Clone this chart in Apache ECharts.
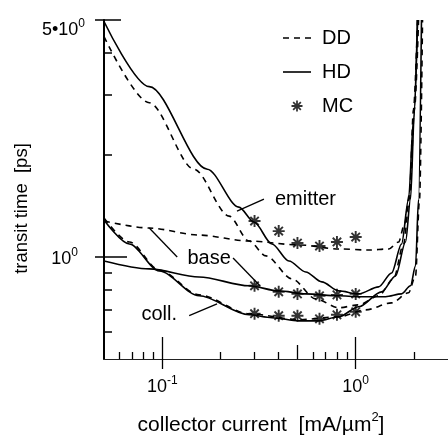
<!DOCTYPE html>
<html>
<head>
<meta charset="utf-8">
<script src="https://cdn.jsdelivr.net/npm/echarts@6/dist/echarts.min.js"></script>
<style>
  html, body { margin: 0; padding: 0; background: #fff; }
  #chart { width: 448px; height: 441px; }
</style>
</head>
<body>
<div id="chart"></div>
<script>
// Transit-time components versus collector current density.
// Each curve is a list of [current (mA/um^2), transit time (ps)] pairs.

const emitterHD = [
  [0.05, 4.95], [0.0857, 3.18], [0.171, 1.815], [0.249, 1.403], [0.298, 1.268],
  [0.369, 1.092], [0.452, 0.973], [0.552, 0.903], [0.668, 0.844], [0.817, 0.794],
  [1.036, 0.778], [1.314, 0.816], [1.533, 0.897], [1.726, 1.092], [1.876, 1.481],
  [1.99, 2.546], [2.087, 5.0]
];
const emitterDD = [
  [0.05, 4.47], [0.0857, 2.85], [0.146, 1.815], [0.2215, 1.32], [0.281, 1.114],
  [0.344, 1.007], [0.468, 0.862], [0.622, 0.752], [0.817, 0.708], [1.036, 0.722],
  [1.314, 0.768], [1.57, 0.862], [1.768, 1.092], [1.897, 1.481], [2.014, 2.725],
  [2.113, 5.0]
];
const baseHD = [
  [0.05, 0.973], [0.0857, 0.922], [0.155, 0.873], [0.281, 0.822], [0.401, 0.794],
  [0.552, 0.778], [0.817, 0.768], [1.036, 0.763], [1.428, 0.763], [1.726, 0.778],
  [1.92, 0.822], [2.038, 0.941], [2.113, 1.481], [2.188, 5.0]
];
const baseDD = [
  [0.05, 1.276], [0.0857, 1.217], [0.155, 1.16], [0.281, 1.114], [0.509, 1.085],
  [0.817, 1.056], [1.167, 1.048], [1.479, 1.056], [1.666, 1.107], [1.789, 1.25],
  [1.897, 1.532], [1.99, 2.725], [2.087, 5.0]
];
const collHD = [
  [0.05, 1.285], [0.0676, 1.092], [0.0965, 0.909], [0.155, 0.768], [0.281, 0.675],
  [0.369, 0.662], [0.509, 0.648], [0.645, 0.648], [0.817, 0.666], [1.036, 0.713],
  [1.361, 0.789], [1.608, 0.879], [1.81, 1.107], [1.92, 1.481], [2.014, 2.725],
  [2.087, 5.0]
];
const collDD = [
  [0.05, 1.302], [0.0676, 1.107], [0.0965, 0.915], [0.155, 0.773], [0.281, 0.68],
  [0.509, 0.653], [0.817, 0.666], [1.126, 0.698], [1.533, 0.732], [1.876, 0.784],
  [2.038, 0.879], [2.138, 1.481], [2.215, 5.0]
];

// Monte Carlo points
const mcCurrent = [0.3, 0.4, 0.5, 0.65, 0.8, 1.0];
const mcEmitter = [1.276, 1.192, 1.099, 1.077, 1.107, 1.145];
const mcBase    = [0.822, 0.789, 0.778, 0.768, 0.773, 0.778];
const mcColl    = [0.680, 0.671, 0.671, 0.657, 0.675, 0.689];

// Axis ticks
const xLabelTicks = [0.1, 1];
const xMinorTicks = [0.06, 0.07, 0.08, 0.09, 0.2, 0.3, 0.4, 0.6, 0.7, 0.8, 0.9, 2];
const xMidTicks = [0.5];
const yLabelTicks = [1, 5];
const yMinorTicks = [0.6, 0.7, 0.8, 0.9, 2, 3, 4];

// Curve annotations
const annotations = [
  { text: 'emitter', at: [0.55, 1.481] },
  { text: 'base', at: [0.1747, 0.9866] },
  { text: 'coll.', at: [0.0965, 0.675] }
];
const leaders = [
  [[0.3356, 1.481], [0.2435, 1.366]],
  [[0.1195, 1.0], [0.0857, 1.217]],
  [[0.2323, 0.9932], [0.32, 0.822]],
  [[0.1378, 0.671], [0.192, 0.727]]
];

const FONT = "'Liberation Sans', Arial, Helvetica, sans-serif";
const INK = '#000';
const STAR = 'path://M0 8.4L20 8.4L20 11.6L0 11.6Z M8.4 0L11.6 0L11.6 20L8.4 20Z ' +
  'M1.87 4.13L4.13 1.87L18.13 15.87L15.87 18.13Z M15.87 1.87L18.13 4.13L4.13 18.13L1.87 15.87Z';
const DASH_ICON = 'path://M0 0L6 0L6 1.6L0 1.6Z M11 0L17 0L17 1.6L11 1.6Z M22 0L28 0L28 1.6L22 1.6Z';
const LINE_ICON = 'path://M0 0L28 0L28 1.6L0 1.6Z';

// tick-label rich styles: main digits plus a raised exponent
function mainTok(padTop, padBottom) {
  return { fontSize: 18, fontFamily: FONT, color: INK, lineHeight: 18,
    padding: [padTop, 0, padBottom, 0], verticalAlign: 'top' };
}
function supTok(padTop, padRight) {
  return { fontSize: 12, fontFamily: FONT, color: INK, lineHeight: 12,
    padding: [padTop, padRight, 0, 0], verticalAlign: 'top' };
}
const xRich = { m: mainTok(4, 0), s: supTok(1, 0) };
const yRich = {
  // "5·10^0" sits a little lower on its tick than the label at 1
  a: mainTok(12, 0), b: supTok(8.5, 0),
  m: mainTok(4, 4), s: supTok(0.5, 7)
};

function near(a, b) { return Math.abs(a - b) < 1e-6 * Math.max(1, b); }
function zip(xs, ys) { return xs.map((x, i) => [x, ys[i]]); }

const X_MIN = 0.05, X_MAX = 3, Y_MIN = 0.5, Y_MAX = 5;

function overlayX(values, len, inside) {
  return {
    type: 'log', logBase: 10, min: X_MIN, max: X_MAX, position: 'bottom',
    axisLine: { show: false }, splitLine: { show: false }, axisLabel: { show: false },
    axisTick: { show: true, inside: inside, length: len, customValues: values,
      lineStyle: { color: INK, width: 1.3 } }
  };
}
function overlayY(values, len, inside) {
  return {
    type: 'log', logBase: 10, min: Y_MIN, max: Y_MAX, position: 'left',
    axisLine: { show: false }, splitLine: { show: false }, axisLabel: { show: false },
    axisTick: { show: true, inside: inside, length: len, customValues: values,
      lineStyle: { color: INK, width: 1.5 } }
  };
}

function curve(name, data, dashed) {
  return {
    type: 'line', name: name, data: data, showSymbol: false, symbol: 'none',
    smooth: 0.3, smoothMonotone: 'x', silent: true,
    lineStyle: { color: INK, width: 1.6, type: dashed ? [6, 5] : 'solid' },
    itemStyle: { color: INK }
  };
}
function stars(ys) {
  return {
    type: 'scatter', name: 'MC', data: zip(mcCurrent, ys), symbol: STAR,
    symbolSize: 12, itemStyle: { color: INK }, silent: true
  };
}

const chart = echarts.init(document.getElementById('chart'), null, { renderer: 'canvas' });
chart.setOption({
  animation: false,
  backgroundColor: '#fff',
  textStyle: { fontFamily: FONT, color: INK },
  grid: { left: 104, top: 20, width: 345, height: 340, containLabel: false },
  legend: {
    orient: 'vertical', left: 278, top: 23, itemWidth: 28, itemHeight: 11, itemGap: 14,
    selectedMode: false,
    data: [
      { name: 'DD', icon: DASH_ICON },
      { name: 'HD', icon: LINE_ICON },
      { name: 'MC', icon: STAR }
    ],
    itemStyle: { borderWidth: 0 },
    lineStyle: { width: 0 },
    textStyle: { fontSize: 20, fontFamily: FONT, color: INK, padding: [0, 0, 0, 6] }
  },
  xAxis: [
    {
      type: 'log', logBase: 10, min: X_MIN, max: X_MAX, position: 'bottom',
      name: '{t|collector current  [mA/\u00b5m}{s|2}{t|]}{g|}', nameLocation: 'middle', nameGap: 51,
      nameTextStyle: {
        fontSize: 21, fontFamily: FONT, color: INK,
        rich: {
          t: { fontSize: 21, fontFamily: FONT, color: INK, lineHeight: 21, padding: [5, 0, 0, 0], verticalAlign: 'top' },
          s: { fontSize: 13, fontFamily: FONT, color: INK, lineHeight: 13, padding: [1, 0, 0, 0], verticalAlign: 'top' },
          g: { width: 30 }
        }
      },
      axisLine: { show: true, lineStyle: { color: '#222', width: 1 } },
      splitLine: { show: false }, minorTick: { show: false },
      axisTick: { show: true, inside: true, length: 7, customValues: xMinorTicks,
        lineStyle: { color: INK, width: 1.3 } },
      axisLabel: {
        customValues: xLabelTicks, margin: 15, color: INK,
        formatter: v => near(v, 0.1) ? '{m|10}{s|-1}' : '{m|10}{s|0}', rich: xRich
      }
    },
    overlayX(xMidTicks, 14, true),
    overlayX(xLabelTicks, 22, true),
    overlayX(xLabelTicks, 10, false)
  ],
  yAxis: [
    {
      type: 'log', logBase: 10, min: Y_MIN, max: Y_MAX, position: 'left',
      name: '{t|transit time  [ps]}{g|}', nameLocation: 'middle', nameGap: 73,
      nameTextStyle: {
        fontSize: 18.5, fontFamily: FONT, color: INK,
        rich: { t: { fontSize: 18.5, fontFamily: FONT, color: INK }, g: { width: 38 } }
      },
      axisLine: { show: true, lineStyle: { color: INK, width: 2 } },
      splitLine: { show: false }, minorTick: { show: false },
      axisTick: { show: true, inside: true, length: 8, customValues: yMinorTicks,
        lineStyle: { color: INK, width: 1.5 } },
      axisLabel: {
        customValues: yLabelTicks, margin: 19, color: INK, padding: [0, 0, 4, 0],
        formatter: v => near(v, 5) ? '{a|5\u202210}{b|0}' : '{m|10}{s|0}',
        rich: yRich
      }
    },
    overlayY([1], 23, true),
    overlayY([5], 17, true),
    overlayY(yLabelTicks, 9, false)
  ],
  series: [
    curve('HD', emitterHD, false),
    curve('DD', emitterDD, true),
    curve('HD', baseHD, false),
    curve('DD', baseDD, true),
    curve('HD', collHD, false),
    curve('DD', collDD, true),
    stars(mcEmitter),
    stars(mcBase),
    stars(mcColl),
    {
      // leader lines and curve names
      type: 'line', data: [], silent: true,
      markLine: {
        silent: true, symbol: 'none', label: { show: false },
        lineStyle: { color: INK, width: 1.3, type: 'solid' },
        emphasis: { disabled: true },
        data: leaders.map(([a, b]) => [{ coord: a }, { coord: b }])
      },
      markPoint: {
        silent: true, symbol: 'circle', symbolSize: 0,
        itemStyle: { color: 'rgba(0,0,0,0)' },
        label: { show: true, position: 'inside', fontSize: 20, fontFamily: FONT, color: INK,
          formatter: p => p.name },
        data: annotations.map(a => ({ name: a.text, coord: a.at }))
      }
    }
  ]
});
</script>
</body>
</html>
